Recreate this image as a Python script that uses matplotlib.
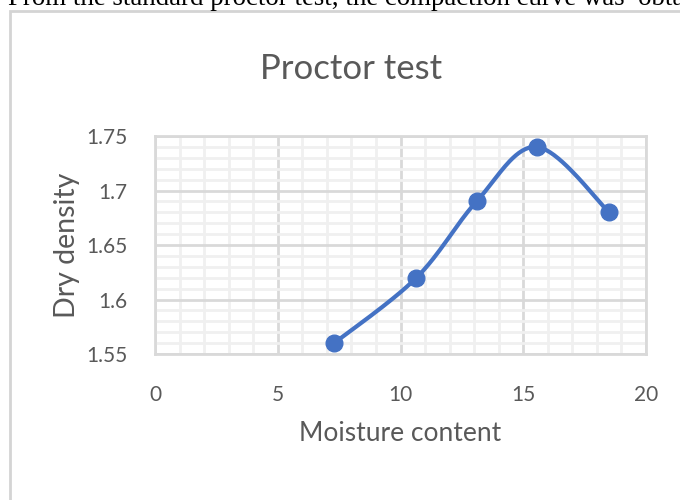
import numpy as np
import matplotlib
matplotlib.use("Agg")
import matplotlib.pyplot as plt
from matplotlib.patches import Rectangle
from matplotlib.ticker import MultipleLocator

moisture = [7.3, 10.65, 13.1, 15.55, 18.5]
dry_density = [1.56, 1.62, 1.69, 1.74, 1.68]
x_ticks = [0, 5, 10, 15, 20]
y_ticks = [1.55, 1.6, 1.65, 1.7, 1.75]
y_tick_labels = ["1.55", "1.6", "1.65", "1.7", "1.75"]

W, H = 680, 500
fig = plt.figure(figsize=(W / 100, H / 100), dpi=100)
fig.patch.set_facecolor("white")

# page text cut at top
fig.text(8 / W, 1.0 - 5 / H, "From the standard proctor test, the compaction curve was  obtained",
         family="Liberation Serif", fontsize=19.4, color="black", ha="left", va="baseline")

# chart border box
fig.patches.append(Rectangle((10 / W, -0.1), 1.2, (H - 11) / H + 0.1, transform=fig.transFigure,
                             fill=False, edgecolor="#d4d4d4", linewidth=2))

ax = fig.add_axes([155 / W, (H - 354) / H, (646 - 155) / W, (354 - 136) / H])
font = "Lato"
gray = "#595959"

ax.set_xlim(0, 20)
ax.set_ylim(1.55, 1.75)
ax.xaxis.set_major_locator(MultipleLocator(5))
ax.xaxis.set_minor_locator(MultipleLocator(1))
ax.yaxis.set_major_locator(MultipleLocator(0.05))
ax.yaxis.set_minor_locator(MultipleLocator(0.01))
ax.set_xticks(x_ticks)
ax.set_yticks(y_ticks)
ax.set_yticklabels(y_tick_labels)
ax.grid(which="minor", color="#f0f0f0", linewidth=2)
ax.grid(which="major", color="#d9d9d9", linewidth=2)
ax.set_axisbelow(True)
for s in ax.spines.values():
    s.set_color("#d9d9d9")
    s.set_linewidth(2)
ax.tick_params(which="both", length=0)
ax.tick_params(axis="x", pad=22, labelsize=15, labelcolor=gray)
ax.tick_params(axis="y", pad=20, labelsize=15, labelcolor=gray)
for lab in ax.get_xticklabels() + ax.get_yticklabels():
    lab.set_family(font)

# smoothed line (Excel-like Bezier through points)
xs = np.array(moisture) / 20.0
ys = (np.array(dry_density) - 1.55) / 0.2 * (218 / 491)
P = np.column_stack([xs, ys])
n = len(P)
curve = []
t = np.linspace(0, 1, 40)
for i in range(n - 1):
    p0 = P[i - 1] if i > 0 else P[i]
    p3 = P[i + 2] if i + 2 < n else P[i + 1]
    c1 = P[i] + (P[i + 1] - p0) / 6
    c2 = P[i + 1] - (p3 - P[i]) / 6
    seg = ((1 - t) ** 3)[:, None] * P[i] + (3 * (1 - t) ** 2 * t)[:, None] * c1 \
        + (3 * (1 - t) * t ** 2)[:, None] * c2 + (t ** 3)[:, None] * P[i + 1]
    curve.append(seg)
curve = np.vstack(curve)
cx = curve[:, 0] * 20
cy = curve[:, 1] / (218 / 491) * 0.2 + 1.55
ax.plot(cx, cy, color="#4472C4", linewidth=3, solid_capstyle="round", clip_on=False)
ax.plot(moisture, dry_density, linestyle="none", marker="o", markersize=12,
        color="#4472C4", clip_on=False, zorder=5)

ax.set_xlabel("Moisture content", family=font, fontsize=19, color=gray, labelpad=12)
ax.set_ylabel("Dry density", family=font, fontsize=20.5, color=gray, labelpad=4)
fig.text(351 / W, 1.0 - 79 / H, "Proctor test", family=font, fontsize=25, color=gray,
         ha="center", va="baseline")

fig.savefig("out.png", dpi=100)
